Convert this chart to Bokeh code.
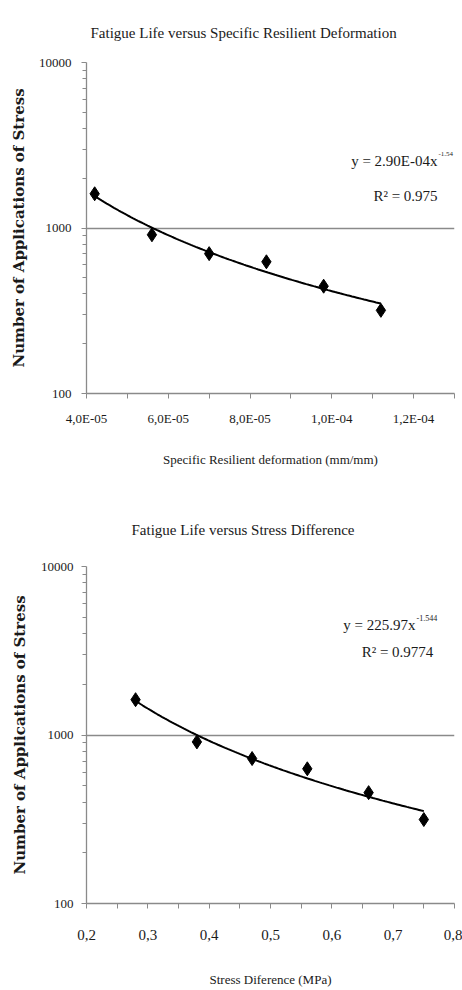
import numpy as np
from bokeh.plotting import figure
from bokeh.layouts import column
from bokeh.models import Range1d, FixedTicker, CustomJSTickFormatter, Label
from bokeh.embed import file_html
from bokeh.resources import INLINE

# ---------------- data ----------------
deform = [4.2e-5, 5.6e-5, 7.0e-5, 8.4e-5, 9.8e-5, 1.12e-4]
cycles1 = [1610, 910, 700, 625, 445, 318]

stress = [0.28, 0.38, 0.47, 0.56, 0.66, 0.75]
cycles2 = [1620, 910, 725, 630, 455, 315]

y_major = [100, 1000, 10000]
y_minor = [200, 300, 400, 500, 600, 700, 800, 900,
           2000, 3000, 4000, 5000, 6000, 7000, 8000, 9000]
x1_major = [4e-5, 6e-5, 8e-5, 1.0e-4, 1.2e-4]
x1_minor = [5e-5, 7e-5, 9e-5, 1.1e-4, 1.3e-4]
x2_major = [0.2, 0.3, 0.4, 0.5, 0.6, 0.7, 0.8]
x2_minor = [0.25, 0.35, 0.45, 0.55, 0.65, 0.75]

title1 = "Fatigue Life versus Specific  Resilient Deformation"
title2 = "Fatigue Life versus Stress Difference"
xlabel1 = "Specific Resilient deformation (mm/mm)"
xlabel2 = "Stress Diference (MPa)"
ylabel = "Number of Applications of Stress"
eq1_main, eq1_exp, r2_1 = "y = 2.90E-04x", "-1.54", "R\u00b2 = 0.975"
eq2_main, eq2_exp, r2_2 = "y = 225.97x", "-1.544", "R\u00b2 = 0.9774"

SERIF = "Liberation Serif"
GRAY = "#8a8a8a"

y_fmt = CustomJSTickFormatter(code="return tick.toFixed(0);")
x1_fmt = CustomJSTickFormatter(code="""
const s = tick.toExponential(1);
const parts = s.split('e');
const n = parseInt(parts[1]);
return parts[0].replace('.', ',') + 'E' + (n < 0 ? '-' : '+') + String(Math.abs(n)).padStart(2, '0');
""")
x2_fmt = CustomJSTickFormatter(code="return tick.toFixed(1).replace('.', ',');")


def make_plot(xs, ys, xr, xmaj, xmin, xfmt, title, title_offset, title_standoff, xlabel,
              width, height, borders, tick_size, tick_standoff, xlab_standoff,
              ylab_standoff, ytick_standoff,
              eq_main, eq_exp, r2, eq_pos, r2_pos, exp_size):
    p = figure(width=width, height=height, output_backend="svg", toolbar_location=None,
               x_range=Range1d(*xr), y_range=Range1d(100, 10000), y_axis_type="log",
               min_border_left=borders[0], min_border_right=borders[1],
               min_border_top=borders[2], min_border_bottom=borders[3])
    p.outline_line_color = None
    p.background_fill_color = "white"
    p.border_fill_color = "white"

    p.title.text = title
    p.title.align = "left"
    p.title.offset = title_offset
    p.title.text_font = SERIF
    p.title.text_font_size = "15px"
    p.title.text_font_style = "normal"
    p.title.text_color = "#1a1a1a"
    p.title.standoff = title_standoff

    p.xgrid.visible = False
    p.ygrid.grid_line_color = GRAY
    p.ygrid.grid_line_width = 1.3
    p.ygrid.minor_grid_line_color = None

    for ax in (p.xaxis[0], p.yaxis[0]):
        ax.axis_line_color = GRAY
        ax.axis_line_width = 1.3
        ax.major_tick_line_color = GRAY
        ax.minor_tick_line_color = GRAY
        ax.major_tick_in = 0
        ax.minor_tick_in = 0
        ax.major_tick_out = 5
        ax.minor_tick_out = 4
        ax.major_label_text_font = SERIF
        ax.major_label_text_color = "#1a1a1a"

    ya = p.yaxis[0]
    ya.ticker = FixedTicker(ticks=y_major, minor_ticks=y_minor)
    ya.formatter = y_fmt
    ya.major_label_text_font_size = "13px"
    ya.major_label_standoff = ytick_standoff
    ya.axis_label = ylabel
    ya.axis_label_text_font = "DejaVu Serif"
    ya.axis_label_text_font_style = "bold"
    ya.axis_label_text_font_size = "15px"
    ya.axis_label_text_color = "#1a1a1a"
    ya.axis_label_standoff = ylab_standoff

    xa = p.xaxis[0]
    xa.ticker = FixedTicker(ticks=xmaj, minor_ticks=xmin)
    xa.formatter = xfmt
    xa.minor_tick_out = 5
    xa.major_label_text_font_size = tick_size
    xa.major_label_standoff = tick_standoff
    xa.axis_label = xlabel
    xa.axis_label_text_font = SERIF
    xa.axis_label_text_font_style = "normal"
    xa.axis_label_text_font_size = "13px"
    xa.axis_label_text_color = "#1a1a1a"
    xa.axis_label_standoff = xlab_standoff

    # power-law trendline fitted to the data (as in the spreadsheet)
    b, a = np.polyfit(np.log(xs), np.log(ys), 1)
    xf = np.linspace(min(xs), max(xs), 120)
    p.line(xf, np.exp(a) * xf ** b, line_color="black", line_width=2)

    p.scatter(xs, ys, marker="diamond", size=14, fill_color="black", line_color="black")

    p.add_layout(Label(x=eq_pos[0], y=eq_pos[1], x_units="screen", y_units="screen",
                       text=eq_main, text_align="right", text_baseline="middle",
                       text_font=SERIF, text_font_size="15px", text_color="#1a1a1a"))
    p.add_layout(Label(x=eq_pos[0] + 1, y=eq_pos[1] + 7, x_units="screen", y_units="screen",
                       text=eq_exp, text_align="left", text_baseline="middle",
                       text_font=SERIF, text_font_size=exp_size, text_color="#1a1a1a"))
    p.add_layout(Label(x=r2_pos[0], y=r2_pos[1], x_units="screen", y_units="screen",
                       text=r2, text_align="center", text_baseline="middle",
                       text_font=SERIF, text_font_size="15px", text_color="#1a1a1a"))
    return p


p1 = make_plot(deform, cycles1, (4e-5, 1.3e-4), x1_major, x1_minor, x1_fmt,
               title1, 4, 43, xlabel1, 462, 485, (86, 5, 62, 92), "13px", 12, 23,
               8, 10,
               eq1_main, eq1_exp, r2_1, (351, 233), (319, 198), "7px")
p2 = make_plot(stress, cycles2, (0.2, 0.8), x2_major, x2_minor, x2_fmt,
               title2, 45, 58, xlabel2, 462, 504, (81, 8, 81, 86), "15px", 21, 29,
               9, 8,
               eq2_main, eq2_exp, r2_2, (329, 279), (311, 252), "8px")

layout = column(p1, p2, spacing=0)
open("out.html", "w").write(file_html(layout, INLINE))
